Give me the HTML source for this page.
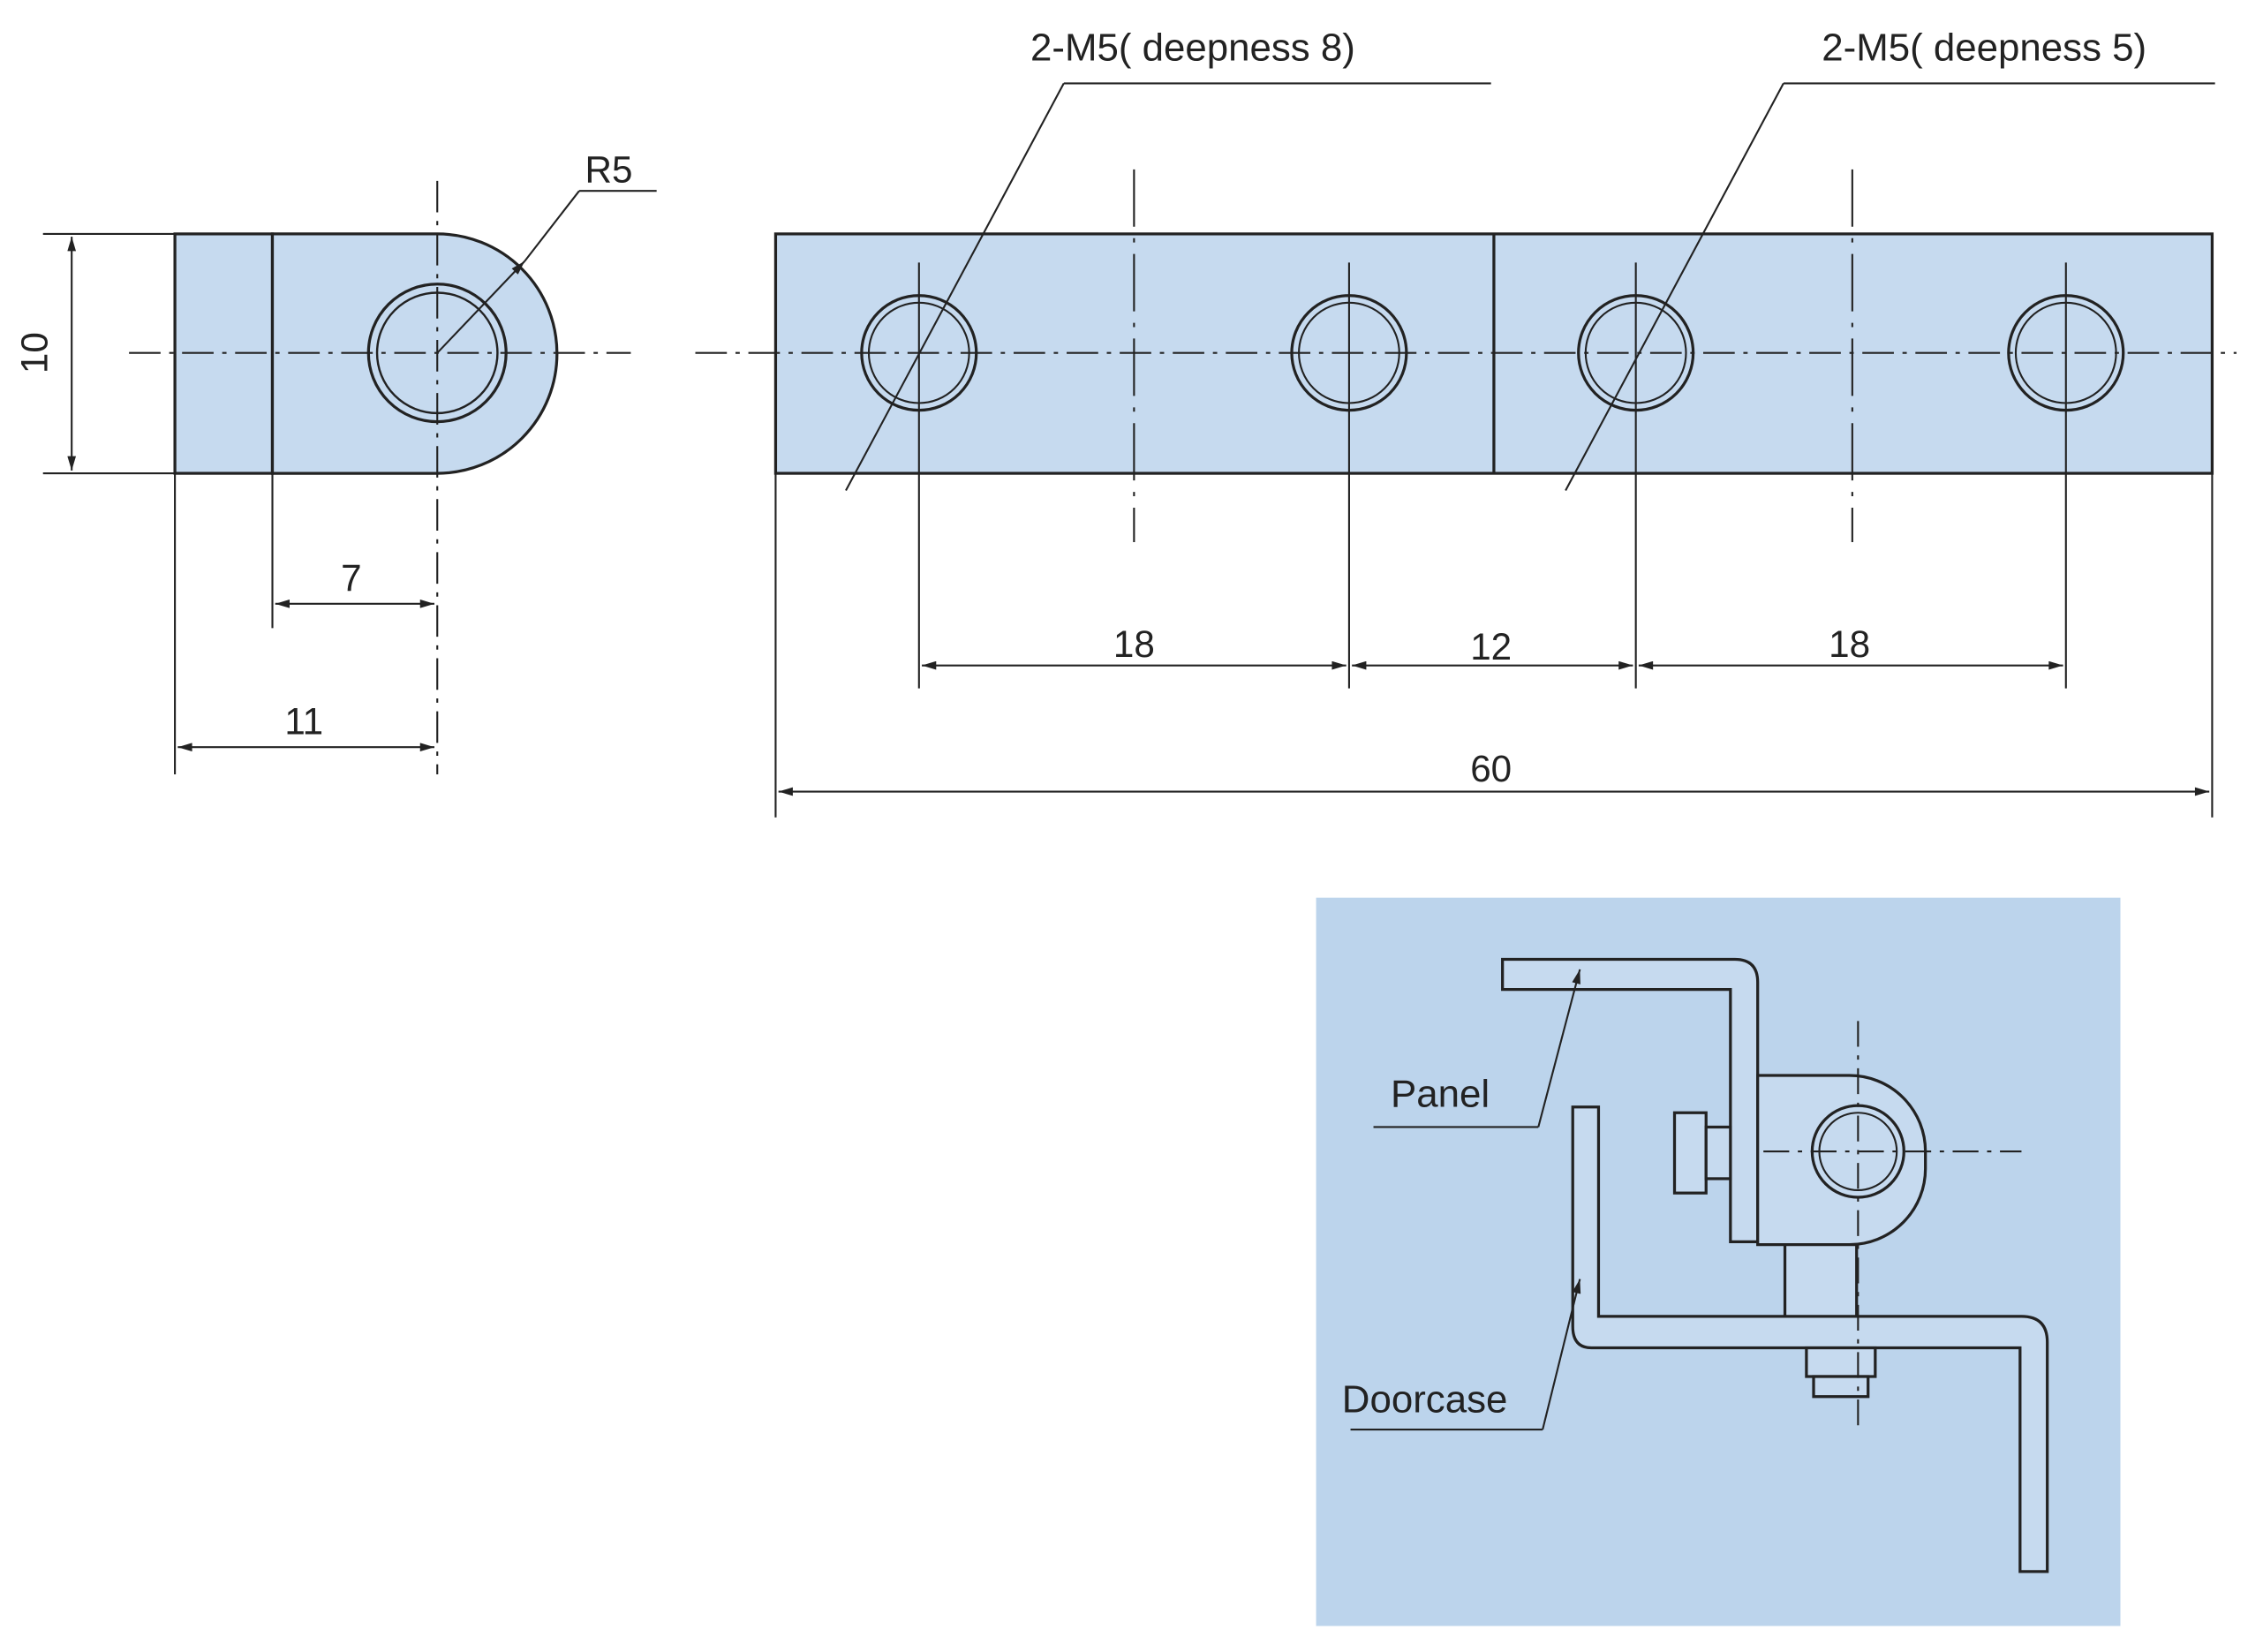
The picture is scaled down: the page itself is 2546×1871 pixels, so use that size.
<!DOCTYPE html>
<html><head><meta charset="utf-8"><style>
html,body{margin:0;padding:0;background:#fff;}
svg{display:block}
text{font-family:"Liberation Sans",sans-serif;fill:#222}
</style></head><body>
<svg width="2546" height="1871" viewBox="0 0 1568 1152" xmlns="http://www.w3.org/2000/svg">
<defs>
<marker id="a" viewBox="0 0 10 6" refX="10" refY="3" markerWidth="14" markerHeight="6" markerUnits="userSpaceOnUse" orient="auto-start-reverse"><path d="M0,0L10,3L0,6z" fill="#222"/></marker>
</defs>
<g stroke="#222" stroke-width="2" fill="#c6daef">
<rect x="122" y="163" width="68" height="167"/>
<path d="M190,163H305A83,83 0 0 1 305,330H190z"/>
</g>
<g fill="none" stroke="#222">
<circle cx="305" cy="246" r="48" stroke-width="2"/>
<circle cx="305" cy="246" r="42" stroke-width="1.5"/>
<line x1="90" y1="246" x2="440" y2="246" stroke-dasharray="22,6,3,6" stroke-width="1.3"/>
<line x1="305" y1="126" x2="305" y2="540" stroke-dasharray="22,6,3,6" stroke-width="1.3"/>
<line x1="30" y1="163" x2="122" y2="163" stroke-width="1.3"/>
<line x1="30" y1="330" x2="305" y2="330" stroke-width="1.3"/>
<line x1="50" y1="165" x2="50" y2="328" stroke-width="1.3" marker-start="url(#a)" marker-end="url(#a)"/>
<line x1="190" y1="330" x2="190" y2="438" stroke-width="1.3"/>
<line x1="122" y1="330" x2="122" y2="540" stroke-width="1.3"/>
<line x1="192" y1="421" x2="303" y2="421" stroke-width="1.3" marker-start="url(#a)" marker-end="url(#a)"/>
<line x1="124" y1="521" x2="303" y2="521" stroke-width="1.3" marker-start="url(#a)" marker-end="url(#a)"/>
<line x1="305" y1="246" x2="366" y2="182" stroke-width="1.3" marker-end="url(#a)"/>
<line x1="366" y1="182" x2="404" y2="133" stroke-width="1.3"/>
<line x1="404" y1="133" x2="458" y2="133" stroke-width="1.3"/>
</g>
<text x="24" y="246" font-size="26" text-anchor="middle" transform="rotate(-90 24 246)" dy="9">10</text>
<text x="245" y="412" font-size="26" text-anchor="middle">7</text>
<text x="212" y="512" font-size="26" text-anchor="middle">11</text>
<text x="408" y="127" font-size="26">R5</text>

<g stroke="#222" stroke-width="2" fill="#c6daef">
<rect x="541" y="163" width="1002" height="167"/>
<line x1="1042" y1="163" x2="1042" y2="330"/>
</g>
<g fill="none" stroke="#222">
<line x1="485" y1="246" x2="1560" y2="246" stroke-dasharray="22,6,3,6" stroke-width="1.3"/>
<g stroke-width="1.3" stroke-dasharray="40,8,3,8">
<line x1="791" y1="118" x2="791" y2="378"/>
<line x1="1292" y1="118" x2="1292" y2="378"/>
</g>
<g stroke-width="1.3">
<line x1="641" y1="183" x2="641" y2="480"/>
<line x1="941" y1="183" x2="941" y2="480"/>
<line x1="1141" y1="183" x2="1141" y2="480"/>
<line x1="1441" y1="183" x2="1441" y2="480"/>
<line x1="541" y1="330" x2="541" y2="570"/>
<line x1="1543" y1="330" x2="1543" y2="570"/>
<line x1="643" y1="464" x2="939" y2="464" marker-start="url(#a)" marker-end="url(#a)"/>
<line x1="943" y1="464" x2="1139" y2="464" marker-start="url(#a)" marker-end="url(#a)"/>
<line x1="1143" y1="464" x2="1439" y2="464" marker-start="url(#a)" marker-end="url(#a)"/>
<line x1="543" y1="552" x2="1541" y2="552" marker-start="url(#a)" marker-end="url(#a)"/>
</g>
<g stroke-width="2">
<circle cx="641" cy="246" r="40"/><circle cx="941" cy="246" r="40"/><circle cx="1141" cy="246" r="40"/><circle cx="1441" cy="246" r="40"/>
</g>
<g stroke-width="1.3">
<circle cx="641" cy="246" r="35"/><circle cx="941" cy="246" r="35"/><circle cx="1141" cy="246" r="35"/><circle cx="1441" cy="246" r="35"/>
<line x1="590" y1="342" x2="742" y2="58"/>
<line x1="742" y1="58" x2="1040" y2="58"/>
<line x1="1092" y1="342" x2="1244" y2="58"/>
<line x1="1244" y1="58" x2="1545" y2="58"/>
</g>
</g>
<text x="791" y="458" font-size="26" text-anchor="middle">18</text>
<text x="1040" y="460" font-size="26" text-anchor="middle">12</text>
<text x="1290" y="458" font-size="26" text-anchor="middle">18</text>
<text x="1040" y="545" font-size="26" text-anchor="middle">60</text>
<text x="832" y="42" font-size="27" text-anchor="middle">2-M5( deepness 8)</text>
<text x="1384" y="42" font-size="27" text-anchor="middle">2-M5( deepness 5)</text>

<rect x="918" y="626" width="561" height="508" fill="#bcd4ec"/>
<g stroke="#222" stroke-width="2" fill="#c6daef">
<path d="M1048,669H1210Q1226,669 1226,685V866H1207V690H1048z"/>
<path d="M1245,750H1290A53,53 0 0 1 1343,803V815A53,53 0 0 1 1290,868H1226V750z"/>
<rect x="1245" y="868" width="50" height="52"/>
<path d="M1097,772H1115V918H1410Q1428,918 1428,936V1096H1409V940H1110Q1097,940 1097,925z"/>
<rect x="1168" y="776" width="22" height="56"/>
<rect x="1190" y="786" width="17" height="36"/>
<rect x="1260" y="940" width="48" height="20"/>
<rect x="1265" y="960" width="38" height="14"/>
</g>
<g fill="none" stroke="#222">
<circle cx="1296" cy="803" r="32" stroke-width="2"/>
<circle cx="1296" cy="803" r="27" stroke-width="1.3"/>
<line x1="1230" y1="803" x2="1410" y2="803" stroke-width="1.3" stroke-dasharray="18,6,3,6"/>
<line x1="1296" y1="712" x2="1296" y2="1000" stroke-width="1.3" stroke-dasharray="18,6,3,6"/>
<line x1="958" y1="786" x2="1073" y2="786" stroke-width="1.3"/>
<line x1="1073" y1="786" x2="1102" y2="676" stroke-width="1.3" marker-end="url(#a)"/>
<line x1="942" y1="997" x2="1076" y2="997" stroke-width="1.3"/>
<line x1="1076" y1="997" x2="1102" y2="892" stroke-width="1.3" marker-end="url(#a)"/>
</g>
<text x="970" y="772" font-size="27">Panel</text>
<text x="936" y="985" font-size="27">Doorcase</text>
</svg>
</body></html>
